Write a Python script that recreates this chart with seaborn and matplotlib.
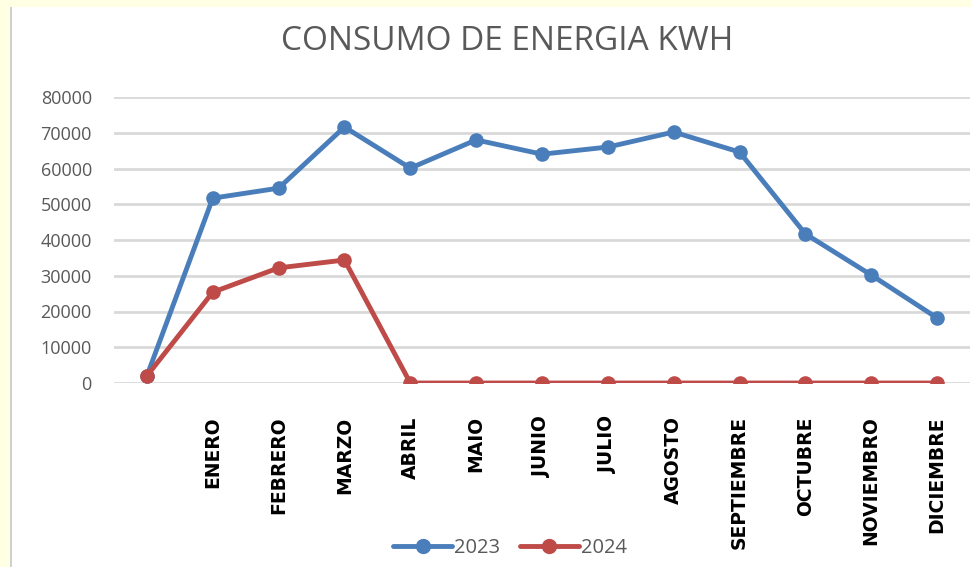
import pandas as pd
import matplotlib.pyplot as plt
import matplotlib.patches as mpatches
import seaborn as sns

months = ["", "ENERO", "FEBRERO", "MARZO", "ABRIL", "MAIO", "JUNIO", "JULIO",
          "AGOSTO", "SEPTIEMBRE", "OCTUBRE", "NOVIEMBRO", "DICIEMBRE"]
kwh_2023 = [2000, 51700, 54500, 71600, 60100, 68000, 64000, 66000, 70200,
            64600, 41700, 30200, 18200]
kwh_2024 = [2000, 25400, 32200, 34400, 0, 0, 0, 0, 0, 0, 0, 0, 0]

df = pd.DataFrame({
    "pos": list(range(len(months))) * 2,
    "kwh": kwh_2023 + kwh_2024,
    "year": ["2023"] * len(months) + ["2024"] * len(months),
})

sns.set_style("white")
plt.rcParams['font.family'] = ['Open Sans', 'DejaVu Sans']

fig = plt.figure(figsize=(9.71, 5.67), dpi=100, facecolor="#FFFFE3")
# white chart area with a thin grey edge on the left
fig.patches.append(mpatches.Rectangle((10 / 971, 0), 1, 1 - 7 / 567,
                                      transform=fig.transFigure,
                                      facecolor="white", edgecolor="none", zorder=-2))
fig.patches.append(mpatches.Rectangle((10 / 971, 0), 1.5 / 971, 1 - 7 / 567,
                                      transform=fig.transFigure,
                                      facecolor="#D0D0D0", edgecolor="none", zorder=-1))

ax = fig.add_axes([114 / 971, 1 - 383 / 567, 856 / 971, 286 / 567])
ax.set_facecolor("none")
ax.set_zorder(2)

palette = {"2023": "#4A7EBB", "2024": "#BE4B48"}
sns.lineplot(data=df, x="pos", y="kwh", hue="year", palette=palette,
             marker="o", markersize=10.5, markeredgewidth=0, linewidth=3.5,
             ax=ax, legend=False, zorder=3)

ax.set_xlim(-0.5, len(months) - 0.5)
ax.set_ylim(0, 80000)
ax.set_yticks(range(0, 80001, 10000))
ax.set_yticklabels([str(v) for v in range(0, 80001, 10000)],
                   color="#595959", fontsize=13)
ax.tick_params(axis="y", length=0, pad=16)
ax.yaxis.grid(True, color="#D9D9D9", linewidth=2)
ax.set_axisbelow(True)

ax.set_xticks(range(len(months)))
ax.set_xticklabels(months, rotation=90, fontsize=13.5, fontweight="bold",
                   family=['Liberation Sans Narrow', 'DejaVu Sans'],
                   color="black", va="top")
ax.tick_params(axis="x", length=0, pad=24)

for s in ax.spines.values():
    s.set_visible(False)
ax.set_xlabel("")
ax.set_ylabel("")

fig.text(507 / 971, 1 - 42 / 567, "CONSUMO DE ENERGIA KWH", ha="center",
         va="center", fontsize=24, color="#595959")

handles = [plt.Line2D([], [], color=palette[y], marker="o", markersize=11,
                      markeredgewidth=0, linewidth=3.5) for y in ["2023", "2024"]]
fig.legend(handles, ["2023", "2024"], loc="center", bbox_to_anchor=(510 / 971, 1 - 548 / 567),
           ncol=2, frameon=False, fontsize=14.5, labelcolor="#595959",
           handlelength=2.9, handletextpad=0.1, columnspacing=1.0)

fig.savefig("out.png", dpi=100, facecolor=fig.get_facecolor())
